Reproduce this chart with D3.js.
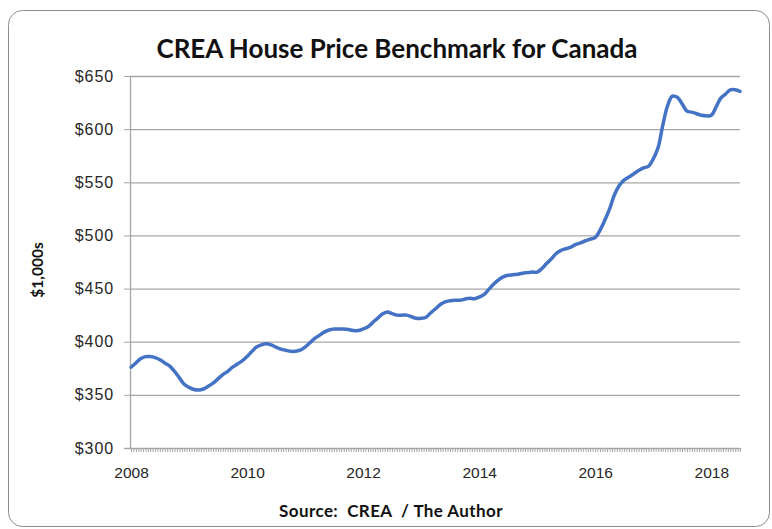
<!DOCTYPE html>
<html>
<head>
    <meta charset="utf-8" />
    <title>CREA House Price Benchmark for Canada</title>
    <style>
        body { margin: 0; background: #fff; }
        svg { display: block; font-family: Lato, "Open Sans", sans-serif; }
        .grid line { stroke: #a6a6a6; stroke-width: 1.3; }
        .grid .domain { display: none; }
        .axis .domain { stroke: #a6a6a6; stroke-width: 1.3; }
        .axis line { stroke: #a6a6a6; }
        .axis text { fill: #262626; font-size: 15.5px; }
        .axis.y text { font-size: 16px; letter-spacing: 0.9px; }
    </style>
</head>
<body>
    <div id="chart"></div>
    <script src="https://cdn.jsdelivr.net/npm/d3@7/dist/d3.min.js"></script>
    <script>
        // benchmark price in $1,000s, one value per month from Jan 2008
        var startMonth = "2008-01";
        var prices = [
            376, 380, 384, 386, 386, 385, 383, 380, 377, 372, 366, 360,             // 2008
            357, 355, 354.5, 355.5, 358, 361, 365, 369, 372, 376, 379, 382,         // 2009
            386, 391, 395, 397, 398, 397, 395, 393, 392, 391, 391, 392,             // 2010
            395, 399, 403, 406, 409, 411, 412, 412, 412, 411.5, 410.5, 410.5,       // 2011
            412, 414, 418, 422, 426, 428, 426.5, 425, 425, 425, 423.5, 422,         // 2012
            422, 423, 427, 431, 435, 437.5, 438.5, 439, 439, 440, 441, 440.5,       // 2013
            442, 444.5, 449, 454, 458, 461, 462.5, 463, 463.5, 464.5, 465, 465.5,   // 2014
            465.5, 469, 473.5, 478, 483, 486, 487.5, 489, 491.5, 493, 495, 496.5,   // 2015
            498, 505, 514, 525, 538, 547, 552, 555, 558, 561, 563.5, 565,           // 2016
            572, 583, 603, 622, 631, 630, 624, 617, 616, 614.5, 613, 612.5,         // 2017
            613, 621, 629, 633, 637, 637, 635.5                                     // 2018
        ];
        var yTicks = [300, 350, 400, 450, 500, 550, 600, 650];
        var xTickYears = [2008, 2010, 2012, 2014, 2016, 2018];

        var width = 772, height = 529;
        var plot = { left: 130, right: 740, top: 76, bottom: 448 };

        var parseMonth = d3.timeParse("%Y-%m");
        var first = parseMonth(startMonth);
        var data = prices.map(function (v, i) {
            return { date: d3.timeMonth.offset(first, i), value: v };
        });

        var svg = d3.select("#chart")
            .append("svg")
            .attr("width", width)
            .attr("height", height);

        // chart frame
        svg.append("rect")
            .attr("x", 8.5)
            .attr("y", 10.5)
            .attr("width", 761)
            .attr("height", 516)
            .attr("rx", 14)
            .attr("fill", "#fff")
            .attr("stroke", "#8c8c8c")
            .attr("stroke-width", 1);

        var x = d3.scaleTime()
            .domain([first, d3.timeMonth.offset(first, 126)])
            .range([plot.left + 1, plot.right]);
        var y = d3.scaleLinear()
            .domain([300, 650])
            .range([plot.bottom, plot.top]);

        // gridlines
        svg.append("g")
            .attr("class", "grid")
            .attr("transform", "translate(" + plot.left + ",0)")
            .call(d3.axisLeft(y).tickValues(yTicks.slice(1)).tickSize(-(plot.right - plot.left)).tickFormat(""));

        // y axis
        svg.append("g")
            .attr("class", "axis y")
            .attr("transform", "translate(" + plot.left + ",0)")
            .call(d3.axisLeft(y).tickValues(yTicks).tickSize(6).tickSizeOuter(0).tickPadding(10)
                .tickFormat(function (d) { return "$" + d; }));

        // x axis: dense minor ticks, labels every two years
        var minor = [];
        d3.timeMonth.range(first, d3.timeMonth.offset(first, 127)).forEach(function (m) {
            minor.push(m);
            minor.push(d3.timeDay.offset(m, 15));
        });
        minor = minor.filter(function (d) { return x(d) <= plot.right; });
        svg.append("g")
            .attr("class", "axis x")
            .attr("transform", "translate(0," + plot.bottom + ")")
            .call(d3.axisBottom(x).tickValues(minor).tickSize(4).tickSizeOuter(0).tickFormat(""));
        svg.select(".axis.x .domain").attr("d", "M" + (plot.left - 6) + ",0.5H" + plot.right);

        svg.append("g")
            .attr("class", "axis xl")
            .attr("transform", "translate(0," + plot.bottom + ")")
            .call(d3.axisBottom(x)
                .tickValues(xTickYears.map(function (yr) { return new Date(yr, 0, 1); }))
                .tickSize(0).tickPadding(19)
                .tickFormat(d3.timeFormat("%Y")))
            .select(".domain").remove();

        // line
        var line = d3.line()
            .x(function (d) { return x(d.date); })
            .y(function (d) { return y(d.value); })
            .curve(d3.curveCatmullRom.alpha(0.5));

        svg.append("path")
            .datum(data)
            .attr("d", line)
            .attr("fill", "none")
            .attr("stroke", "#4472c4")
            .attr("stroke-width", 3.5)
            .attr("stroke-linejoin", "round")
            .attr("stroke-linecap", "round");

        // title
        svg.append("text")
            .attr("x", 397)
            .attr("y", 58)
            .attr("text-anchor", "middle")
            .style("font-size", "26px")
            .style("font-weight", "bold")
            .style("fill", "#111")
            .text("CREA House Price Benchmark for Canada");

        // y axis title
        svg.append("text")
            .attr("transform", "translate(43,270) rotate(-90)")
            .attr("text-anchor", "middle")
            .style("font-size", "15.5px")
            .style("font-weight", "bold")
            .style("fill", "#111")
            .text("$1,000s");

        // source note
        svg.append("text")
            .attr("x", 391)
            .attr("y", 517)
            .attr("text-anchor", "middle")
            .style("font-size", "17px")
            .style("font-weight", "bold")
            .style("letter-spacing", "0.4px")
            .style("fill", "#111")
            .style("white-space", "pre")
            .text("Source:  CREA  / The Author");
    </script>
</body>
</html>
